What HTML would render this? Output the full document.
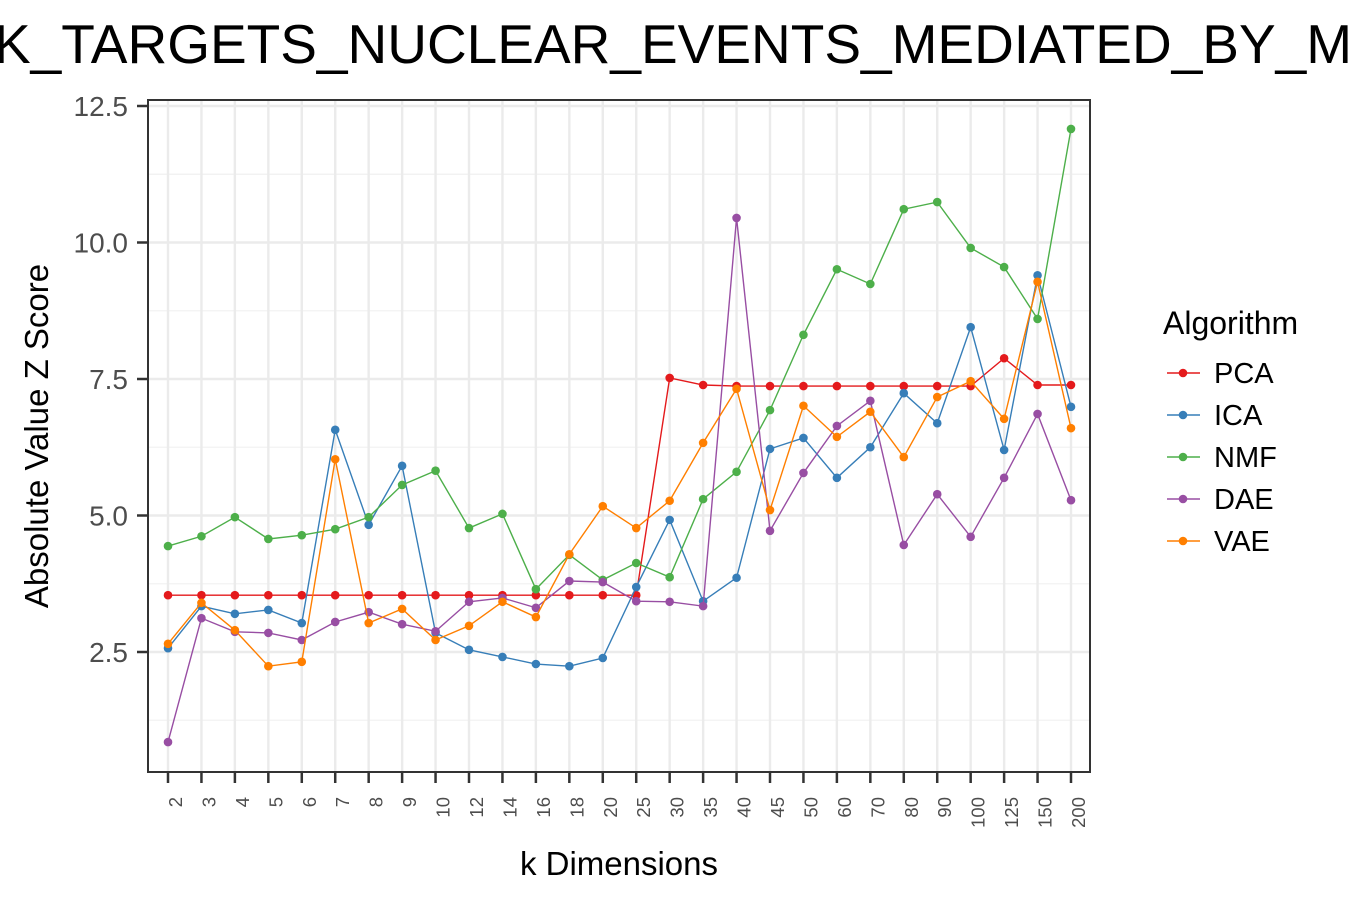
<!DOCTYPE html>
<html><head><meta charset="utf-8"><style>
body{margin:0;background:#fff;width:1350px;height:900px;overflow:hidden}
svg text{font-family:"Liberation Sans",sans-serif}
</style></head><body>
<svg id="chart" width="1350" height="900" xmlns="http://www.w3.org/2000/svg">
<text x="-6" y="63" font-size="55" fill="#000">K_TARGETS_NUCLEAR_EVENTS_MEDIATED_BY_MAPK</text>
<g id="grid"></g><g id="series"></g><g id="axes"></g><g id="legend"></g>
<text x="619" y="875" font-size="33" text-anchor="middle">k Dimensions</text>
<text transform="translate(48,436) rotate(-90)" font-size="33" text-anchor="middle">Absolute Value Z Score</text>
</svg>
<script>
const categories=["2","3","4","5","6","7","8","9","10","12","14","16","18","20","25","30","35","40","45","50","60","70","80","90","100","125","150","200"];
const yTicks=[2.5,5.0,7.5,10.0,12.5];
const seriesNames=["PCA","ICA","NMF","DAE","VAE"];
const seriesColors=["#e41a1c","#377eb8","#4daf4a","#984ea3","#ff7f00"];
const pca=[3.54,3.54,3.54,3.54,3.54,3.54,3.54,3.54,3.54,3.54,3.54,3.54,3.54,3.54,3.54,7.52,7.39,7.37,7.37,7.37,7.37,7.37,7.37,7.37,7.37,7.88,7.39,7.39];
const ica=[2.57,3.34,3.2,3.27,3.03,6.57,4.83,5.91,2.85,2.54,2.41,2.28,2.24,2.39,3.69,4.92,3.43,3.86,6.22,6.42,5.69,6.25,7.24,6.69,8.45,6.2,9.4,6.99];
const nmf=[4.44,4.62,4.97,4.57,4.64,4.75,4.97,5.56,5.82,4.77,5.03,3.65,4.28,3.82,4.13,3.87,5.3,5.8,6.93,8.31,9.51,9.24,10.61,10.74,9.9,9.55,8.6,12.08];
const dae=[0.85,3.12,2.87,2.85,2.72,3.05,3.23,3.01,2.88,3.42,3.49,3.31,3.8,3.78,3.43,3.42,3.34,10.45,4.72,5.78,6.64,7.1,4.46,5.39,4.61,5.69,6.86,5.28];
const vae=[2.65,3.4,2.9,2.24,2.32,6.03,3.03,3.29,2.72,2.98,3.42,3.14,4.29,5.17,4.77,5.27,6.33,7.32,5.1,7.01,6.44,6.9,6.07,7.17,7.46,6.77,9.28,6.6];
const allSeries=[pca,ica,nmf,dae,vae];
const NS="http://www.w3.org/2000/svg";
const L=148,R=1090,T=100,B=772;
const x=i=>168+i*(1071-168)/(categories.length-1);
const y=v=>652-(v-2.5)*54.6;
function mk(tag,attrs,parent){const e=document.createElementNS(NS,tag);for(const k in attrs)e.setAttribute(k,attrs[k]);parent.appendChild(e);return e;}
const g=document.getElementById('grid'),s=document.getElementById('series'),a=document.getElementById('axes'),lg=document.getElementById('legend');
for(let i=0;i<yTicks.length;i++){
 const v=yTicks[i];
 const mn=v-1.25; if(y(mn)<B){const m=mk('line',{x1:L,x2:R,y1:y(mn),y2:y(mn),stroke:'#f2f2f2','stroke-width':1.2},g);}
 const l=mk('line',{x1:L,x2:R,y1:y(v),y2:y(v),stroke:'#ebebeb','stroke-width':2.4},g);
 
 const t=mk('text',{x:128,y:y(v)+10,'font-size':28,fill:'#4d4d4d','text-anchor':'end'},a);t.textContent=v.toFixed(1);
 
 mk('line',{x1:L-11,x2:L,y1:y(v),y2:y(v),stroke:'#333','stroke-width':2.5},a);
}
{const v=11.25;const m=mk('line',{x1:L,x2:R,y1:y(v),y2:y(v),stroke:'#f2f2f2','stroke-width':1.2},g);}
categories.forEach((c,i)=>{
 const l=mk('line',{x1:x(i),x2:x(i),y1:T,y2:B,stroke:'#ebebeb','stroke-width':2.4},g);
 
 mk('line',{x1:x(i),x2:x(i),y1:B,y2:B+11,stroke:'#333','stroke-width':2.5},a);
 const t=mk('text',{transform:`translate(${x(i)+14},${B+25}) rotate(-90)`,'font-size':18.5,fill:'#4d4d4d','text-anchor':'end'},a);t.textContent=c;
 
});
const fr=mk('rect',{x:L,y:T,width:R-L,height:B-T,fill:'none',stroke:'#333','stroke-width':2},a);

allSeries.forEach((d,si)=>{
 const p=mk('polyline',{points:d.map((v,i)=>x(i)+','+y(v)).join(' '),fill:'none',stroke:seriesColors[si],'stroke-width':1.4},s);
 
 d.forEach((v,i)=>{const c=mk('circle',{cx:x(i),cy:y(v),r:4.3,fill:seriesColors[si]},s);
  });
});
const lt=mk('text',{x:1163,y:334,'font-size':32,fill:'#000'},lg);lt.textContent='Algorithm';

seriesNames.forEach((n,i)=>{
 const yy=373+i*42;
 const e=mk('g',{},lg);
 mk('line',{x1:1167,x2:1200,y1:yy,y2:yy,stroke:seriesColors[i],'stroke-width':1.4},e);
 mk('circle',{cx:1183,cy:yy,r:4.3,fill:seriesColors[i]},e);
 const t=mk('text',{x:1214,y:yy+10,'font-size':29,fill:'#000'},e);t.textContent=n;
});
</script>
</body></html>
